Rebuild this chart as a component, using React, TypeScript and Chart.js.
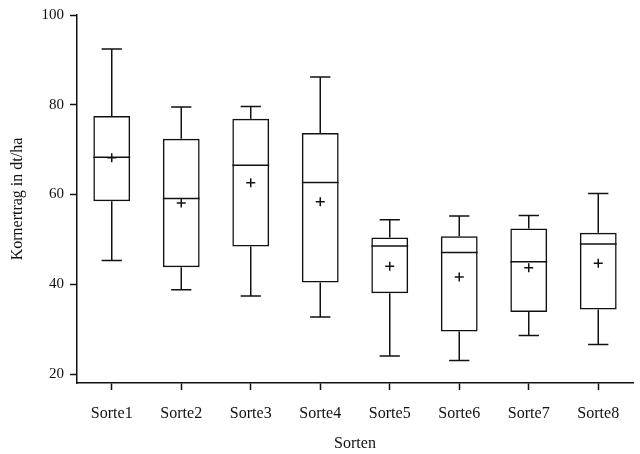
import React, { useEffect, useRef } from "react";
import { Chart, registerables } from "chart.js";

Chart.register(...registerables);

const categories = ["Sorte1", "Sorte2", "Sorte3", "Sorte4", "Sorte5", "Sorte6", "Sorte7", "Sorte8"];
const whiskerHigh = [92.4, 79.5, 79.6, 86.2, 54.4, 55.2, 55.3, 60.2];
const q3Values = [77.5, 72.4, 76.9, 73.7, 50.4, 50.7, 52.4, 51.5];
const medianValues = [68.3, 59.1, 66.5, 62.7, 48.5, 47.1, 45.0, 49.0];
const meanValues = [68.2, 58.1, 62.6, 58.4, 44.0, 41.6, 43.7, 44.7];
const q1Values = [58.5, 43.8, 48.4, 40.4, 38.0, 29.5, 33.8, 34.4];
const whiskerLow = [45.3, 38.8, 37.4, 32.7, 24.0, 23.0, 28.6, 26.6];
const yTicks = [20, 40, 60, 80, 100];

const INK = "#111";
const FONT = "'Liberation Serif', 'Times New Roman', serif";

const boxPlugin = {
  id: "boxWhiskers",
  afterDatasetsDraw(chart: any) {
    const ctx = chart.ctx;
    const xs = chart.scales.x;
    const ys = chart.scales.y;
    const meta = chart.getDatasetMeta(0);
    ctx.save();
    ctx.strokeStyle = INK;
    ctx.lineWidth = 1.5;
    categories.forEach((_, i) => {
      const x = xs.getPixelForValue(i);
      const bw = meta.data[i] ? meta.data[i].width : 37;
      const capW = bw * 0.55;
      const yMed = ys.getPixelForValue(medianValues[i]);
      const yQ3 = ys.getPixelForValue(q3Values[i]);
      const yQ1 = ys.getPixelForValue(q1Values[i]);
      const yHi = ys.getPixelForValue(whiskerHigh[i]);
      const yLo = ys.getPixelForValue(whiskerLow[i]);
      ctx.beginPath();
      ctx.moveTo(x - bw / 2, yMed);
      ctx.lineTo(x + bw / 2, yMed);
      ctx.moveTo(x, yQ3);
      ctx.lineTo(x, yHi);
      ctx.moveTo(x - capW / 2, yHi);
      ctx.lineTo(x + capW / 2, yHi);
      ctx.moveTo(x, yQ1);
      ctx.lineTo(x, yLo);
      ctx.moveTo(x - capW / 2, yLo);
      ctx.lineTo(x + capW / 2, yLo);
      ctx.stroke();
    });
    ctx.restore();
  },
};

export default function App() {
  const canvasRef = useRef<HTMLCanvasElement | null>(null);

  useEffect(() => {
    if (!canvasRef.current) return;
    const chart = new Chart(canvasRef.current, {
      type: "bar",
      data: {
        labels: categories,
        datasets: [
          {
            type: "bar",
            label: "Box",
            data: q1Values.map((q1, i) => [q1, q3Values[i]]) as any,
            backgroundColor: "rgba(255,255,255,0)",
            borderColor: INK,
            borderWidth: 1.5,
            borderSkipped: false,
            barPercentage: 0.53,
            categoryPercentage: 1,
          } as any,
          {
            type: "line",
            label: "Mittelwert",
            data: meanValues,
            showLine: false,
            pointStyle: "cross",
            pointRadius: 4.5,
            pointBorderWidth: 1.5,
            pointBorderColor: INK,
            borderColor: INK,
          } as any,
        ],
      },
      options: {
        animation: false,
        responsive: true,
        maintainAspectRatio: false,
        layout: { padding: { top: 13, right: 7, left: 0, bottom: 0 } },
        plugins: {
          legend: { display: false },
          tooltip: { enabled: false },
        },
        scales: {
          x: {
            type: "category",
            offset: true,
            grid: {
              display: true,
              drawOnChartArea: false,
              drawTicks: true,
              tickLength: 7,
              tickWidth: 1.5,
              tickColor: INK,
              offset: false,
            },
            border: { display: true, color: INK, width: 1.5 },
            ticks: {
              color: INK,
              font: { family: FONT, size: 16 },
              padding: 14,
              maxRotation: 0,
            },
            title: {
              display: true,
              text: "Sorten",
              color: INK,
              font: { family: FONT, size: 16 },
              padding: { top: 0, bottom: 1 },
            },
            afterFit: (scale: any) => {
              scale.height = 71;
            },
          },
          y: {
            type: "linear",
            min: 18,
            max: 100,
            grid: {
              display: true,
              drawOnChartArea: false,
              drawTicks: true,
              tickLength: 7,
              tickWidth: 1.5,
              tickColor: INK,
            },
            border: { display: true, color: INK, width: 1.5 },
            ticks: {
              color: INK,
              font: { family: FONT, size: 15 },
              padding: 6,
            },
            afterBuildTicks: (scale: any) => {
              scale.ticks = yTicks.map((v) => ({ value: v }));
            },
            title: {
              display: true,
              text: "Kornertrag in dt/ha",
              color: INK,
              font: { family: FONT, size: 16 },
              padding: { top: 8, bottom: 0 },
            },
            afterFit: (scale: any) => {
              scale.width = 77;
            },
          },
        },
      },
      plugins: [boxPlugin],
    });
    return () => chart.destroy();
  }, []);

  return (
    <div style={{ position: "absolute", left: 0, top: 0, width: 640, height: 454, background: "#fff" }}>
      <canvas ref={canvasRef} />
    </div>
  );
}
